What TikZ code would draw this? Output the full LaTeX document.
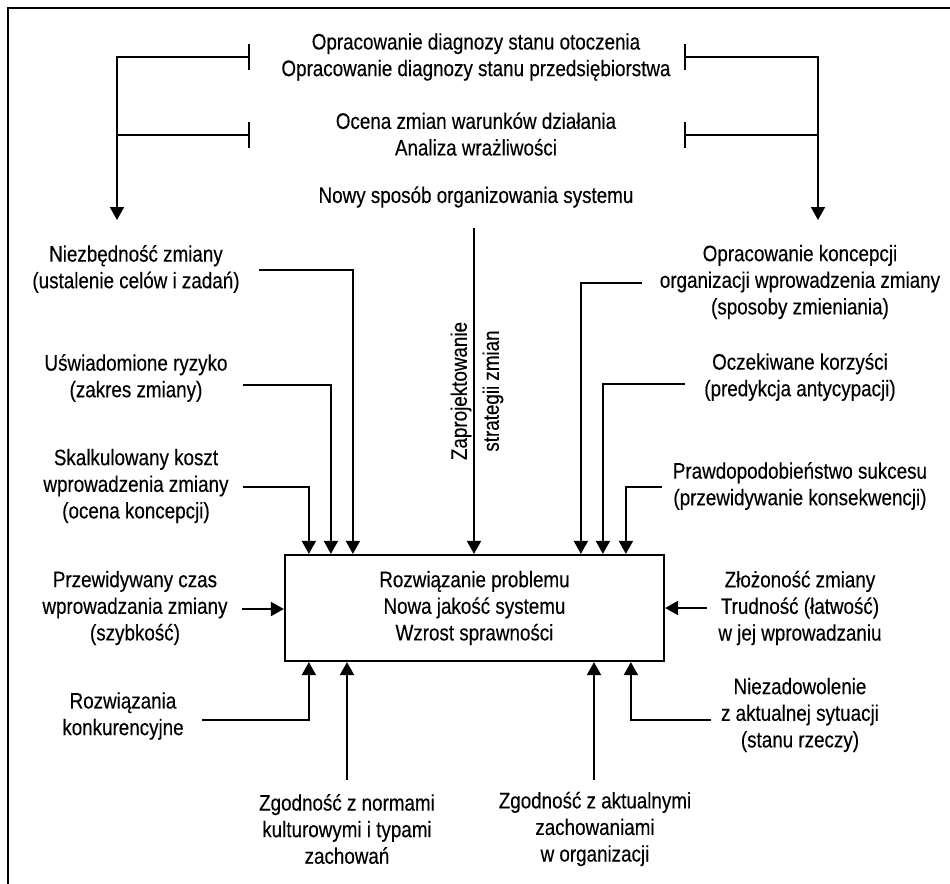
\documentclass[tikz,border=0pt]{standalone}
\usepackage{fontspec}
\setmainfont{Liberation Sans}[FakeStretch=0.84,FakeBold=0.3]
\usetikzlibrary{arrows.meta,calc}
\begin{document}
\begin{tikzpicture}[x=0.5pt,y=-0.5pt,
  lbl/.style={align=center, font=\fontsize{11.2}{13.3}\selectfont, inner sep=1pt},
  arr/.style={-{Triangle[width=7pt,length=6.5pt]}, line width=0.95pt},
  brk/.style={{Bar[width=13pt]}-{Triangle[width=7pt,length=6.5pt]}, line width=0.95pt},
  brkz/.style={{Bar[width=13pt]}-, line width=0.95pt},
  mainbox/.style={draw, line width=1.1pt, minimum width=189.5pt, minimum height=53pt}]
\fill[white] (0,0) rectangle (950,884);
\useasboundingbox (0,0) rectangle (950,884);
\draw[line width=1.4pt] (950,8) -- (8,8) -- (8,884);

% top texts
\node[lbl] (diag) at (476,57) {Opracowanie diagnozy stanu otoczenia\\Opracowanie diagnozy stanu przedsiębiorstwa};
\node[lbl] (ocena) at (476,134) {Ocena zmian warunków działania\\Analiza wrażliwości};
\node[lbl] (nowy) at (476,197) {Nowy sposób organizowania systemu};

% left texts
\node[lbl] (niezb) at (136,269) {Niezbędność zmiany\\(ustalenie celów i zadań)};
\node[lbl] (ryzyko) at (136,378) {Uświadomione ryzyko\\(zakres zmiany)};
\node[lbl] (koszt) at (136,486) {Skalkulowany koszt\\wprowadzenia zmiany\\(ocena koncepcji)};
\node[lbl] (czas) at (135,608) {Przewidywany czas\\wprowadzania zmiany\\(szybkość)};
\node[lbl] (konk) at (123,716) {Rozwiązania\\konkurencyjne};

% bottom texts
\node[lbl] (normy) at (347,829) {Zgodność z normami\\kulturowymi i typami\\zachowań};
\node[lbl] (zach) at (595,829) {Zgodność z aktualnymi\\zachowaniami\\w organizacji};

% right texts
\node[lbl] (koncep) at (800,282) {Opracowanie koncepcji\\organizacji wprowadzenia zmiany\\(sposoby zmieniania)};
\node[lbl] (korz) at (800,377) {Oczekiwane korzyści\\(predykcja antycypacji)};
\node[lbl] (prawd) at (800,486) {Prawdopodobieństwo sukcesu\\(przewidywanie konsekwencji)};
\node[lbl] (zloz) at (800,608) {Złożoność zmiany\\Trudność (łatwość)\\w jej wprowadzaniu};
\node[lbl] (niezad) at (800,715) {Niezadowolenie\\z aktualnej sytuacji\\(stanu rzeczy)};

% central box
\node[lbl, mainbox] (box) at (474.5,608) {Rozwiązanie problemu\\Nowa jakość systemu\\Wzrost sprawności};

% rotated label
\node[lbl, rotate=90] (zapr) at (477,391) {Zaprojektowanie\\[2.7pt]strategii zmian};

% brackets at top
\coordinate (tL1) at (250,57);
\coordinate (tL2) at (250,135);
\coordinate (aL) at (117,220);
\coordinate (tR1) at (684,57);
\coordinate (tR2) at (684,135);
\coordinate (aR) at (818,220);
\draw[brk] (tL1) -| (aL);
\draw[brkz] (tL2) -- (tL2 -| aL);
\draw[brk] (tR1) -| (aR);
\draw[brkz] (tR2) -- (tR2 -| aR);

% central vertical
\coordinate (vS) at (474,228);
\draw[arr] (vS) -- (vS |- box.north);

% left inputs to top
\coordinate (s1) at (259,270);
\coordinate (s2) at (243,385);
\coordinate (s3) at (243,487);
\draw[arr] (s1) -| ($(box.north west)+(69,0)$);
\draw[arr] (s2) -| ($(box.north west)+(47,0)$);
\draw[arr] (s3) -| ($(box.north west)+(25,0)$);

% right inputs to top
\coordinate (s4) at (642,283);
\coordinate (s5) at (685,384);
\coordinate (s6) at (662,487);
\draw[arr] (s4) -| ($(box.north west)+(297,0)$);
\draw[arr] (s5) -| ($(box.north west)+(319,0)$);
\draw[arr] (s6) -| ($(box.north west)+(342,0)$);

% side inputs
\coordinate (s7) at (242,609);
\coordinate (s8) at (707,608);
\draw[arr] (s7) -- (s7 -| box.west);
\draw[arr] (s8) -- (s8 -| box.east);

% bottom inputs
\coordinate (s9) at (202,720);
\coordinate (s10) at (711,720);
\draw[arr] (s9) -| ($(box.south west)+(25,0)$);
\draw[arr] (s10) -| ($(box.south west)+(347,0)$);
\coordinate (s11) at (347,780);
\coordinate (s12) at (594,780);
\draw[arr] (s11) -- (s11 |- box.south);
\draw[arr] (s12) -- (s12 |- box.south);
\end{tikzpicture}
\end{document}
